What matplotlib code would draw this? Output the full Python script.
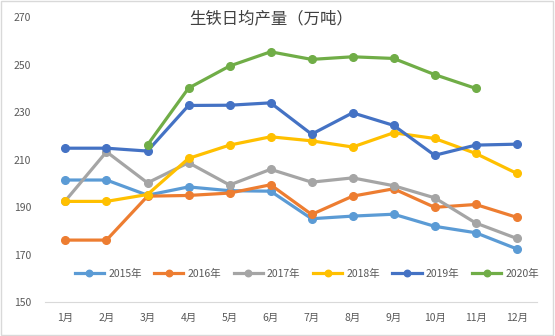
import matplotlib.pyplot as plt
from matplotlib.patches import Rectangle

plt.rcParams['font.family'] = ['Noto Sans CJK SC', 'DejaVu Sans']

months = ['1月', '2月', '3月', '4月', '5月', '6月', '7月', '8月', '9月', '10月', '11月', '12月']
years = ['2015年', '2016年', '2017年', '2018年', '2019年', '2020年']

y2015 = [201.4, 201.4, 195.0, 198.5, 196.9, 196.7, 185.1, 186.2, 187.0, 181.9, 179.2, 172.4]
y2016 = [176.1, 176.1, 194.6, 194.9, 195.9, 199.4, 186.9, 194.6, 197.7, 189.9, 191.1, 185.7]
y2017 = [192.7, 213.3, 200.2, 208.7, 199.3, 205.9, 200.5, 202.3, 199.0, 193.9, 183.3, 176.8]
y2018 = [192.4, 192.4, 195.3, 210.5, 216.1, 219.6, 217.9, 215.3, 221.3, 218.9, 212.6, 204.2]
y2019 = [214.8, 214.8, 213.6, 232.8, 232.9, 233.9, 220.7, 229.7, 224.4, 211.8, 216.1, 216.5]
y2020 = [None, None, 216.2, 240.1, 249.4, 255.4, 252.2, 253.3, 252.6, 245.8, 240.0, None]

series = [y2015, y2016, y2017, y2018, y2019, y2020]
colors = ['#5B9BD5', '#ED7D31', '#A5A5A5', '#FFC000', '#4472C4', '#70AD47']

fig = plt.figure(figsize=(5.55, 3.36), dpi=100)
ax = fig.add_axes([0.081, 0.101, 0.887, 0.848])

x = list(range(len(months)))
for name, vals, c in zip(years, series, colors):
    xs = [i for i, v in zip(x, vals) if v is not None]
    vs = [v for v in vals if v is not None]
    ax.plot(xs, vs, color=c, lw=2.3, marker='o', ms=5.5, label=name)

ax.set_xlim(-0.5, 11.5)
ax.set_ylim(150, 270)
ax.set_yticks(range(150, 271, 20))
ax.set_xticks(x)
ax.set_xticklabels(months)
for s in ['top', 'right', 'left']:
    ax.spines[s].set_visible(False)
ax.spines['bottom'].set_color('#D9D9D9')
ax.tick_params(length=0, labelsize=7.5, colors='#595959', pad=8)
ax.tick_params(axis='y', pad=10)

fig.text(0.488, 0.942, '生铁日均产量（万吨）', ha='center', va='center',
         fontsize=11.8, color='#404040', fontweight='medium')

fig.legend(loc='center', bbox_to_anchor=(0.553, 0.185), ncol=6, frameon=False,
           fontsize=7.5, labelcolor='#595959', handlelength=2.8, columnspacing=1.2,
           handletextpad=0.4, markerscale=0.85)

fig.patches.append(Rectangle((0.002, 0.003), 0.995, 0.994, transform=fig.transFigure,
                             fill=False, edgecolor='#D9D9D9', lw=1))

fig.savefig('out.png', dpi=100)
